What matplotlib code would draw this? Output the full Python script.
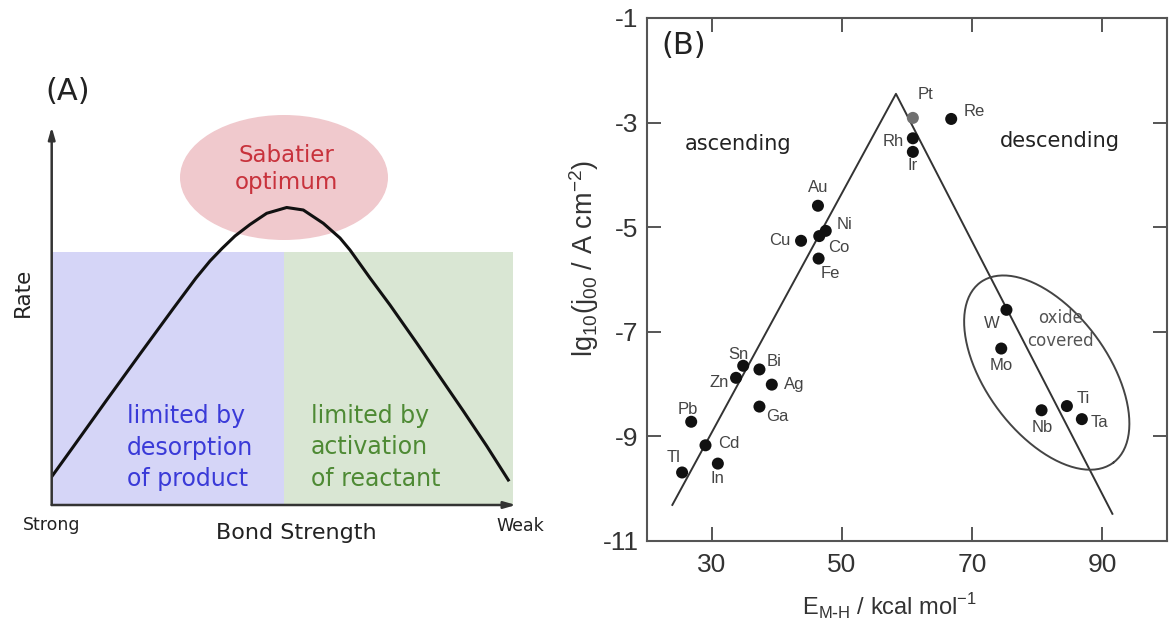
import numpy as np
import matplotlib
matplotlib.use("Agg")
import matplotlib.pyplot as plt
from matplotlib.patches import Ellipse, Rectangle

plt.rcParams["axes.unicode_minus"] = False

# ---- panel A : schematic volcano (pixel units of the sketch)
curve_x = [51.7, 73.3, 106.7, 140, 173.3, 196, 210, 222, 235, 250, 266.7, 286.7, 303.3,
           323.3, 340, 350, 370, 390, 416.7, 440, 463.3, 486.7, 508.3]
curve_y = [476.7, 446.7, 400, 354, 308.5, 278, 261, 248.5, 236, 224.5, 213.3, 207.5, 210,
           223.3, 238, 250, 278, 305, 343, 377, 411, 446, 480]
region_left = 51.7
region_split = 284
region_right = 512.7
region_top = 251.7
axis_bottom = 505

# ---- panel B : exchange current vs M-H bond energy
metals = ["Pt", "Re", "Rh", "Ir", "Au", "Ni", "Co", "Cu", "Fe", "W", "Mo", "Sn",
          "Bi", "Zn", "Ag", "Ga", "Nb", "Ti", "Ta", "Pb", "Cd", "In", "Tl"]
e_mh = [60.9, 66.8, 60.9, 60.9, 46.3, 47.5, 46.5, 43.7, 46.4, 75.3, 74.5, 34.8,
        37.3, 33.7, 39.2, 37.3, 80.7, 84.6, 86.9, 26.8, 29.0, 30.9, 25.4]
lg_j = [-2.91, -2.93, -3.30, -3.56, -4.59, -5.07, -5.17, -5.26, -5.60, -6.58, -7.32, -7.65,
        -7.72, -7.88, -8.01, -8.43, -8.50, -8.42, -8.67, -8.72, -9.17, -9.52, -9.69]
volcano_x = [23.9, 58.3, 91.6]
volcano_y = [-10.31, -2.45, -10.48]
xticks_b = [30, 50, 70, 90]
yticks_b = [-1, -3, -5, -7, -9, -11]

# label offsets (pixels) from each dot
lab_off = {"Pt": (13, 23), "Re": (23, 7), "Rh": (-20, -3), "Ir": (0, -14), "Au": (0, 18),
           "Ni": (19, 6), "Co": (20, -11), "Cu": (-21, 0), "Fe": (12, -15), "W": (-15, -14),
           "Mo": (0, -17), "Sn": (-5, 11), "Bi": (15, 8), "Zn": (-17, -5), "Ag": (22, 0),
           "Ga": (18, -10), "Nb": (1, -17), "Ti": (16, 8), "Ta": (18, -3), "Pb": (-3, 12),
           "Cd": (23, 2), "In": (0, -15), "Tl": (-9, 15)}

W, H = 1176, 643
fig = plt.figure(figsize=(W / 100, H / 100), dpi=100)

# ================= panel A  (axes box in pixel coords of the figure)
axA = fig.add_axes([51.7 / W, (H - 505) / H, (516 - 51.7) / W, (505 - 127) / H])
axA.set_xlim(51.7, 516)
axA.set_ylim(505, 127)
axA.axis("off")
axA.add_patch(Rectangle((region_left, region_top), region_split - region_left,
                        axis_bottom - region_top, color="#d5d5f7", lw=0, zorder=0))
axA.add_patch(Rectangle((region_split, region_top), region_right - region_split,
                        axis_bottom - region_top, color="#d9e6d3", lw=0, zorder=0))
axA.add_patch(Ellipse((284, 177.5), 208, 125, color="#f0c9cd", lw=0, zorder=1, clip_on=False))
axA.plot(curve_x, curve_y, color="#111111", lw=2.2, zorder=3, solid_joinstyle="round")
arrow = dict(arrowstyle="-|>,head_length=0.7,head_width=0.2", color="#333333", lw=1.8,
             shrinkA=0, shrinkB=0)
axA.annotate("", xy=(51.7, 127), xytext=(51.7, 505), arrowprops=arrow, zorder=4)
axA.annotate("", xy=(516, 505), xytext=(51.7, 505), arrowprops=arrow, zorder=4)
axA.text(286.7, 169, "Sabatier\noptimum", color="#c8323c", fontsize=16.5, ha="center",
         va="center", linespacing=1.18, zorder=5)
axA.text(127, 447.5, "limited by\ndesorption\nof product", color="#3a3ad8", fontsize=17,
         ha="left", va="center", linespacing=1.42, zorder=5)
axA.text(311, 447.5, "limited by\nactivation\nof reactant", color="#4e8a34", fontsize=17,
         ha="left", va="center", linespacing=1.42, zorder=5)
axA.text(22.7, 292, "Rate", rotation=90, fontsize=15.5, ha="center", va="center",
         color="#222222", clip_on=False)
axA.text(51.8, 525, "Strong", fontsize=12.5, ha="center", va="center", color="#222222",
         clip_on=False)
axA.text(520.7, 526, "Weak", fontsize=12.5, ha="center", va="center", color="#222222",
         clip_on=False)
axA.text(296, 533, "Bond Strength", fontsize=16, ha="center", va="center", color="#222222",
         clip_on=False)
axA.text(68, 92, "(A)", fontsize=22, ha="center", va="center", color="#222222", clip_on=False)

# ================= panel B
axB = fig.add_axes([647 / W, (H - 541) / H, (1167 - 647) / W, (541 - 18) / H])
axB.set_xlim(20, 100)
axB.set_ylim(-11, -1)
axB.plot(volcano_x, volcano_y, color="#333333", lw=1.4, zorder=2)
colors = ["#707070" if m == "Pt" else "#111111" for m in metals]
axB.scatter(e_mh, lg_j, s=75, c=colors, zorder=3, linewidths=0)
for m, x, y in zip(metals, e_mh, lg_j):
    dx, dy = lab_off[m]
    axB.annotate(m, (x, y), xytext=(dx, dy), textcoords="offset pixels", ha="center",
                 va="center", fontsize=12, color="#444444", family="Liberation Sans")

# tilted ellipse around the oxide covered metals, defined in pixel space
fig.canvas.draw()
p0 = axB.transData.transform((0, 0))
p1 = axB.transData.transform((1, 1))
sx, sy = p1[0] - p0[0], p1[1] - p0[1]
t = np.linspace(0, 2 * np.pi, 200)
a, b, th = 112, 61, np.deg2rad(-53.6)
ex = 81.5 + (a * np.cos(t) * np.cos(th) - b * np.sin(t) * np.sin(th)) / sx
ey = -7.78 + (a * np.cos(t) * np.sin(th) + b * np.sin(t) * np.cos(th)) / sy
axB.plot(ex, ey, color="#444444", lw=1.4, zorder=2)

axB.text(34.0, -3.4, "ascending", fontsize=15, ha="center", va="center", color="#222222")
axB.text(83.5, -3.35, "descending", fontsize=15, ha="center", va="center", color="#222222")
axB.text(83.6, -6.95, "oxide\ncovered", fontsize=12, ha="center", va="center",
         color="#555555", linespacing=1.35)
axB.text(25.7, -1.52, "(B)", fontsize=22, ha="center", va="center", color="#222222")

axB.set_xticks(xticks_b)
axB.set_yticks(yticks_b)
axB.tick_params(direction="in", length=10, width=1.4, color="#555555", top=True, right=True,
                labelsize=19, labelcolor="#333333")
axB.tick_params(axis="x", pad=9)
axB.tick_params(axis="y", pad=6)
for lab in axB.get_xticklabels() + axB.get_yticklabels():
    lab.set_family("Liberation Sans")
for sp in axB.spines.values():
    sp.set_color("#555555")
    sp.set_linewidth(1.5)
axB.set_xlabel(r"E$_{\mathregular{M\text{-}H}}$ / kcal mol$^{\mathregular{-1}}$", fontsize=17,
               family="Liberation Sans", color="#333333")
axB.set_ylabel(r"lg$_{\mathregular{10}}$(j$_{\mathregular{00}}$ / A cm$^{\mathregular{-2}}$)",
               fontsize=19.5, family="Liberation Sans", color="#333333")
axB.xaxis.set_label_coords(0.467, -0.098)
axB.yaxis.set_label_coords(-0.088, 0.54)

fig.savefig("out.png", dpi=100)
